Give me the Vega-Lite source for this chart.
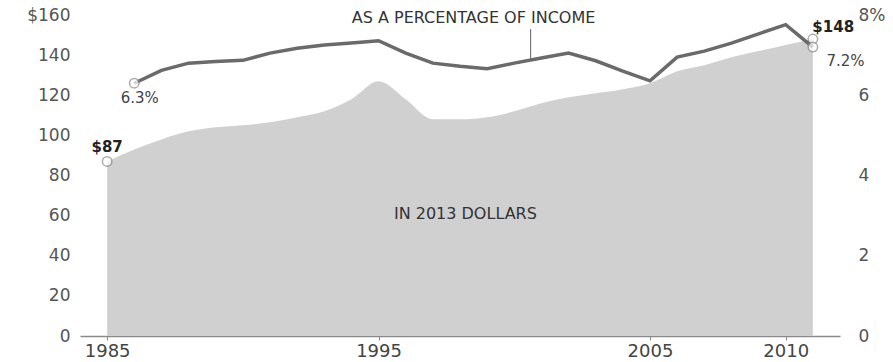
{
  "$schema": "https://vega.github.io/schema/vega-lite/v6.json",
  "width": 760,
  "height": 321,
  "autosize": "none",
  "padding": {"left": 80, "top": 15, "right": 53, "bottom": 26},
  "background": "white",
  "config": {"view": {"stroke": null}, "font": "DejaVu Sans"},
  "datasets": {
    "dollars": [
      {"year": 1985, "value": 87}, {"year": 1986, "value": 93}, {"year": 1987, "value": 98},
      {"year": 1988, "value": 102}, {"year": 1989, "value": 104}, {"year": 1990, "value": 105},
      {"year": 1991, "value": 106.5}, {"year": 1992, "value": 109}, {"year": 1993, "value": 112},
      {"year": 1994, "value": 118}, {"year": 1995, "value": 127}, {"year": 1996, "value": 118},
      {"year": 1997, "value": 108}, {"year": 1998, "value": 108}, {"year": 1999, "value": 109},
      {"year": 2000, "value": 112}, {"year": 2001, "value": 116}, {"year": 2002, "value": 119},
      {"year": 2003, "value": 121}, {"year": 2004, "value": 123}, {"year": 2005, "value": 126},
      {"year": 2006, "value": 132}, {"year": 2007, "value": 135}, {"year": 2008, "value": 139},
      {"year": 2009, "value": 142}, {"year": 2010, "value": 145}, {"year": 2011, "value": 148}
    ],
    "pct": [
      {"year": 1986, "pct": 6.3}, {"year": 1987, "pct": 6.62}, {"year": 1988, "pct": 6.8},
      {"year": 1989, "pct": 6.84}, {"year": 1990, "pct": 6.87}, {"year": 1991, "pct": 7.05},
      {"year": 1992, "pct": 7.17}, {"year": 1993, "pct": 7.25}, {"year": 1994, "pct": 7.3},
      {"year": 1995, "pct": 7.36}, {"year": 1996, "pct": 7.05}, {"year": 1997, "pct": 6.8},
      {"year": 1998, "pct": 6.72}, {"year": 1999, "pct": 6.66}, {"year": 2000, "pct": 6.8},
      {"year": 2001, "pct": 6.93}, {"year": 2002, "pct": 7.05}, {"year": 2003, "pct": 6.86},
      {"year": 2004, "pct": 6.6}, {"year": 2005, "pct": 6.36}, {"year": 2006, "pct": 6.95},
      {"year": 2007, "pct": 7.1}, {"year": 2008, "pct": 7.3}, {"year": 2009, "pct": 7.53},
      {"year": 2010, "pct": 7.76}, {"year": 2011, "pct": 7.2}
    ]
  },
  "layer": [
    {
      "layer": [
        {
          "data": {"name": "dollars"},
          "mark": {"type": "area", "color": "#d0d0d0", "interpolate": "monotone"},
          "encoding": {
            "x": {
              "field": "year", "type": "quantitative",
              "scale": {"domain": [1984, 2012], "nice": false, "zero": false},
              "axis": {
                "title": null, "values": [1985, 1995, 2005, 2010], "format": "d",
                "grid": false, "domainColor": "#8a8a8a", "domainWidth": 1.5,
                "tickColor": "#8a8a8a", "tickSize": 4, "labelFontSize": 18,
                "labelColor": "#444", "labelPadding": 2, "labelFont": "DejaVu Sans"
              }
            },
            "y": {
              "field": "value", "type": "quantitative",
              "scale": {"domain": [0, 160], "nice": false},
              "axis": {
                "title": null, "values": [0, 20, 40, 60, 80, 100, 120, 140, 160],
                "labelExpr": "datum.value == 160 ? '$160' : datum.label",
                "grid": false, "domain": false, "ticks": false, "labelPadding": 10,
                "labelFontSize": 17, "labelColor": "#555", "labelOverlap": false,
                "labelFont": "DejaVu Sans"
              }
            }
          }
        },
        {
          "data": {"values": [{"year": 1985, "value": 87}, {"year": 2011, "value": 148}]},
          "mark": {"type": "point", "shape": "circle", "size": 90, "filled": true, "fill": "white", "stroke": "#888", "strokeWidth": 1.5},
          "encoding": {
            "x": {"field": "year", "type": "quantitative"},
            "y": {"field": "value", "type": "quantitative"}
          }
        },
        {
          "data": {"values": [
            {"year": 1985, "value": 94, "label": "$87"},
            {"year": 2011.75, "value": 154, "label": "$148"}
          ]},
          "mark": {"type": "text", "fontSize": 15, "fontWeight": "bold", "color": "#222", "align": "center", "baseline": "middle"},
          "encoding": {
            "x": {"field": "year", "type": "quantitative"},
            "y": {"field": "value", "type": "quantitative"},
            "text": {"field": "label"}
          }
        },
        {
          "data": {"values": [
            {"year": 1998.5, "value": 158.5, "label": "AS A PERCENTAGE OF INCOME"},
            {"year": 1998.2, "value": 61, "label": "IN 2013 DOLLARS"}
          ]},
          "mark": {"type": "text", "fontSize": 16, "color": "#333", "align": "center", "baseline": "middle"},
          "encoding": {
            "x": {"field": "year", "type": "quantitative"},
            "y": {"field": "value", "type": "quantitative"},
            "text": {"field": "label"}
          }
        },
        {
          "data": {"values": [{"year": 2000.6, "value": 153, "value2": 138}]},
          "mark": {"type": "rule", "color": "#777", "strokeWidth": 1.2},
          "encoding": {
            "x": {"field": "year", "type": "quantitative"},
            "y": {"field": "value", "type": "quantitative"},
            "y2": {"field": "value2"}
          }
        }
      ]
    },
    {
      "layer": [
        {
          "data": {"name": "pct"},
          "mark": {"type": "line", "color": "#6a6a6a", "strokeWidth": 3.5, "interpolate": "linear"},
          "encoding": {
            "x": {"field": "year", "type": "quantitative"},
            "y": {
              "field": "pct", "type": "quantitative",
              "scale": {"domain": [0, 8], "nice": false},
              "axis": {
                "orient": "right", "title": null, "values": [0, 2, 4, 6, 8],
                "labelExpr": "datum.value == 8 ? '8%' : datum.label",
                "grid": false, "domain": false, "ticks": false, "labelPadding": 18,
                "labelFontSize": 17, "labelColor": "#555", "labelOverlap": false,
                "labelFont": "DejaVu Sans"
              }
            }
          }
        },
        {
          "data": {"values": [{"year": 1986, "pct": 6.3}, {"year": 2011, "pct": 7.2}]},
          "mark": {"type": "point", "shape": "circle", "size": 90, "filled": true, "fill": "white", "stroke": "#888", "strokeWidth": 1.5},
          "encoding": {
            "x": {"field": "year", "type": "quantitative"},
            "y": {"field": "pct", "type": "quantitative"}
          }
        },
        {
          "data": {"values": [
            {"year": 1986.2, "pct": 5.93, "label": "6.3%"},
            {"year": 2012.2, "pct": 6.85, "label": "7.2%"}
          ]},
          "mark": {"type": "text", "fontSize": 15, "color": "#444", "align": "center", "baseline": "middle"},
          "encoding": {
            "x": {"field": "year", "type": "quantitative"},
            "y": {"field": "pct", "type": "quantitative"},
            "text": {"field": "label"}
          }
        }
      ]
    }
  ],
  "resolve": {"scale": {"y": "independent"}}
}
